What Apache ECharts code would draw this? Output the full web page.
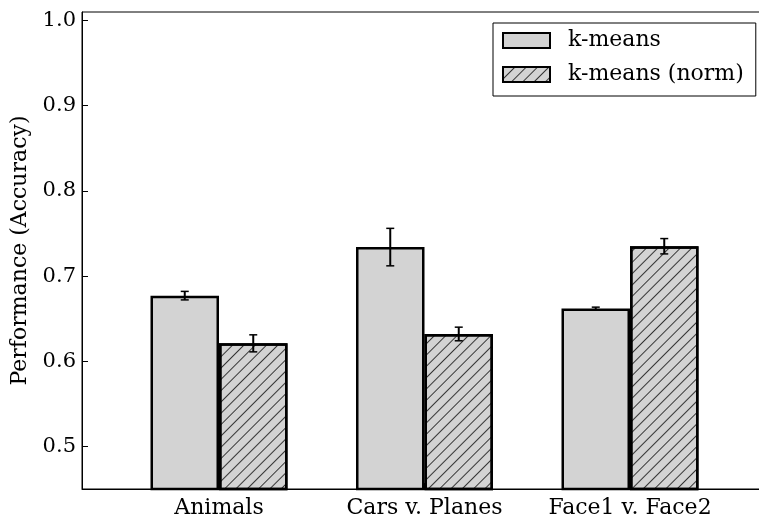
<!DOCTYPE html>
<html>
<head>
<meta charset="utf-8">
<script src="https://cdn.jsdelivr.net/npm/echarts@6/dist/echarts.min.js"></script>
<style>html,body{margin:0;padding:0;background:#fff}#c{width:759px;height:520px}</style>
</head>
<body>
<div id="c"></div>
<script>
const categories = ['Animals', 'Cars v. Planes', 'Face1 v. Face2'];
const seriesNames = ['k-means', 'k-means (norm)'];
const kmeans = [0.677, 0.734, 0.662];
const kmeansErr = [0.005, 0.022, 0.0015];
const kmeansNorm = [0.621, 0.632, 0.735];
const kmeansNormErr = [0.010, 0.008, 0.009];
const yTicks = [0.5, 0.6, 0.7, 0.8, 0.9, 1.0];

const FONT = 'DejaVu Serif';
const groupOffset = 1 / 6;
const chart = echarts.init(document.getElementById('c'), null, {renderer: 'canvas'});

const kData = kmeans.map((v, i) => [i - groupOffset, v]);
const nData = kmeansNorm.map((v, i) => [i + groupOffset, v]);
const errData = [];
kmeans.forEach((v, i) => errData.push([i - groupOffset, v, kmeansErr[i]]));
kmeansNorm.forEach((v, i) => errData.push([i + groupOffset, v, kmeansNormErr[i]]));

const hatch = {
  symbol: 'rect', symbolSize: 1, color: 'rgba(0,0,0,0.75)', backgroundColor: null,
  dashArrayX: [1, 0], dashArrayY: [1, 6.5], rotation: -Math.PI / 4
};

const option = {
  animation: false,
  backgroundColor: '#fff',
  grid: {left: 82, right: -8, top: 12, bottom: 31, outerBoundsMode: 'none', containLabel: false,
    show: true, borderColor: '#000', borderWidth: 1, backgroundColor: 'transparent'},
  legend: {
    data: seriesNames, orient: 'vertical', left: 493, top: 23,
    backgroundColor: '#fff', borderColor: '#000', borderWidth: 1,
    padding: [5, 12, 9, 9], itemWidth: 47, itemHeight: 15, itemGap: 9,
    icon: 'rect',
    textStyle: {fontFamily: FONT, fontSize: 22, color: '#000', lineHeight: 25, padding: [0, 0, 0, 13]}
  },
  xAxis: {
    type: 'value', min: -2 / 3, max: 8 / 3,
    splitLine: {show: false},
    axisLine: {show: true, onZero: false, lineStyle: {color: '#000', width: 1}},
    axisTick: {show: true, inside: true, length: 6, lineStyle: {color: '#000'}, customValues: [0, 1, 2]},
    axisLabel: {
      customValues: [0, 1, 2], margin: 8, color: '#000', fontFamily: FONT, fontSize: 22,
      formatter: v => categories[Math.round(v)]
    }
  },
  yAxis: {
    type: 'value', min: 0.45, max: 1.01,
    name: 'Performance (Accuracy)', nameLocation: 'middle', nameGap: 49,
    nameTextStyle: {fontFamily: FONT, fontSize: 22, color: '#000'},
    splitLine: {show: false},
    axisLine: {show: true, onZero: false, lineStyle: {color: '#000', width: 1}},
    axisTick: {show: true, inside: true, length: 6, lineStyle: {color: '#000'}, customValues: yTicks},
    axisLabel: {customValues: yTicks, margin: 6, color: '#000', fontFamily: FONT, fontSize: 21, formatter: v => v.toFixed(1)}
  },
  series: [
    {
      name: seriesNames[0], type: 'bar', data: kData, barWidth: 68.5, barGap: '-100%',
      itemStyle: {color: '#d3d3d3', borderColor: '#000', borderWidth: 2.5}
    },
    {
      name: seriesNames[1], type: 'bar', data: nData, barWidth: 68.5, barGap: '-100%',
      itemStyle: {color: '#d3d3d3', borderColor: '#000', borderWidth: 2.5, decal: hatch}
    },
    {
      type: 'custom', data: errData, z: 5, silent: true,
      renderItem: function (params, api) {
        const x = api.value(0), y = api.value(1), e = api.value(2);
        const top = api.coord([x, y + e]);
        const bot = api.coord([x, y - e]);
        const cw = 4;
        return {
          type: 'group',
          children: [
            {type: 'line', shape: {x1: top[0], y1: top[1], x2: bot[0], y2: bot[1]}, style: {stroke: '#000', lineWidth: 2}},
            {type: 'line', shape: {x1: top[0] - cw, y1: top[1], x2: top[0] + cw, y2: top[1]}, style: {stroke: '#000', lineWidth: 1.5}},
            {type: 'line', shape: {x1: bot[0] - cw, y1: bot[1], x2: bot[0] + cw, y2: bot[1]}, style: {stroke: '#000', lineWidth: 1.5}}
          ]
        };
      }
    }
  ]
};
chart.setOption(option);
</script>
</body>
</html>
